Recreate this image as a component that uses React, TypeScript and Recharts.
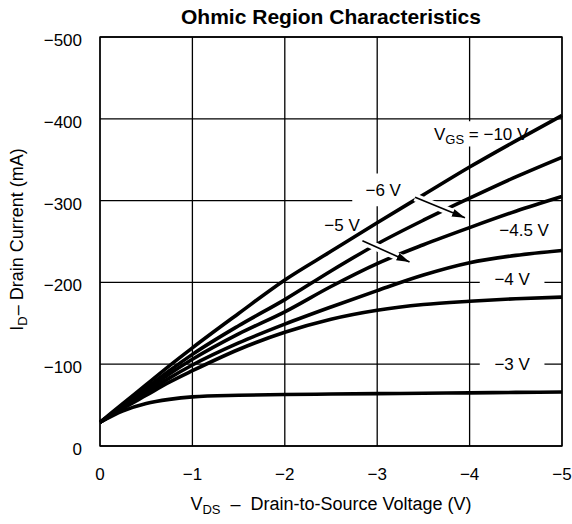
import React from 'react';
import {
  LineChart,
  Line,
  XAxis,
  YAxis,
  CartesianGrid,
  ReferenceArea,
  ReferenceLine,
  Label,
} from 'recharts';

const FONT = '"Liberation Sans", Arial, Helvetica, sans-serif';

// V_DS sample points (V) and drain current per V_GS curve (mA)
const vds = [0, -0.25, -0.5, -0.75, -1, -1.5, -2, -2.5, -3, -3.5, -4, -4.5, -5];
const id10 = [-29, -52, -75, -98, -120, -162, -203, -238, -273, -307, -341, -373, -404];
const id6 = [-29, -50, -71, -92, -112, -147, -179, -214, -247, -276, -303, -329, -353];
const id5 = [-29, -49, -68, -88, -106, -137, -164, -195, -223, -246, -267, -287, -305];
const id45 = [-29, -47, -65, -83, -99, -126, -149, -170, -190, -209, -224, -233, -239];
const id4 = [-29, -46, -62, -78, -92, -118, -139, -155, -166, -173, -177, -180, -182];
const id3 = [-29, -43, -52, -57, -60, -62, -63, -63.5, -64, -64.5, -65, -65.5, -66];

const xTicks = [0, -1, -2, -3, -4, -5];
const yTicks = [0, -100, -200, -300, -400, -500];

const seriesKeys = ['v10', 'v6', 'v5', 'v45', 'v4', 'v3'];

const data = vds.map((v, i) => ({
  vds: v,
  v10: id10[i],
  v6: id6[i],
  v5: id5[i],
  v45: id45[i],
  v4: id4[i],
  v3: id3[i],
}));

// curve labels, boxes in data units; white ones knock out the grid behind the text
const annotations = [
  { pre: 'V', sub: 'GS', post: ' = \u221210 V', x1: -3.55, x2: -4.7, y1: -397, y2: -366, white: true },
  { pre: '\u22126 V', x1: -2.73, x2: -3.4, y1: -333, y2: -293, white: true },
  { pre: '\u22125 V', x1: -2.4, x2: -2.84, y1: -281, y2: -259, white: false },
  { pre: '\u22124.5 V', x1: -4.29, x2: -4.89, y1: -276, y2: -252, white: false },
  { pre: '\u22124 V', x1: -4.11, x2: -4.81, y1: -216, y2: -192, white: true },
  { pre: '\u22123 V', x1: -4.11, x2: -4.81, y1: -112, y2: -88, white: true },
];

const arrows = [
  { from: { x: -3.41, y: -304 }, to: { x: -3.95, y: -279 } },
  { from: { x: -2.84, y: -251 }, to: { x: -3.35, y: -225 } },
];

const minus = (v: number) => (v < 0 ? '\u2212' + Math.abs(v) : String(v));

function XTick(props: any) {
  const { x, y, payload } = props;
  return (
    <text x={x} y={y + 12} textAnchor="middle" fontSize={17} fontFamily={FONT} fill="#000">
      {minus(payload.value)}
    </text>
  );
}

function YTick(props: any) {
  const { x, y, payload } = props;
  return (
    <text x={x} y={y + 9} textAnchor="end" fontSize={17} fontFamily={FONT} fill="#000">
      {minus(payload.value)}
    </text>
  );
}

function XTitle(props: any) {
  const vb = props.viewBox;
  const cx = vb.x + vb.width / 2;
  return (
    <text x={cx} y={vb.y + 64} textAnchor="middle" fontSize={18} fontFamily={FONT} fill="#000">
      V<tspan fontSize={13} dy={4}>DS</tspan>
      <tspan dy={-4} dx={10}>{'\u2013'}</tspan>
      <tspan dx={10}>Drain-to-Source Voltage (V)</tspan>
    </text>
  );
}

function YTitle(props: any) {
  const vb = props.viewBox;
  const cy = vb.y + vb.height / 2 - 2;
  return (
    <text
      transform={`translate(23, ${cy}) rotate(-90)`}
      textAnchor="middle"
      fontSize={18}
      fontFamily={FONT}
      fill="#000"
    >
      I<tspan fontSize={13} dy={4}>D</tspan>
      <tspan dy={-4} dx={1}>{'\u2013 Drain Current (mA)'}</tspan>
    </text>
  );
}

function annoLabel(a: any) {
  return (props: any) => {
    const vb = props.viewBox;
    const cx = vb.x + vb.width / 2;
    const cy = vb.y + vb.height / 2;
    return (
      <text x={cx} y={cy + 6} textAnchor="middle" fontSize={17} fontFamily={FONT} fill="#000">
        {a.pre}
        {a.sub && (
          <tspan fontSize={13} dy={4}>
            {a.sub}
          </tspan>
        )}
        {a.post && <tspan dy={a.sub ? -4 : 0}>{a.post}</tspan>}
      </text>
    );
  };
}

export default function App() {
  return (
    <div style={{ position: 'absolute', left: 0, top: 0, width: 572, height: 524, background: '#fff' }}>
      <LineChart
        width={572}
        height={524}
        data={data}
        margin={{ top: 37, right: 10, bottom: 0, left: 0 }}
      >
        <defs>
          <marker
            id="arrowHead"
            markerUnits="userSpaceOnUse"
            markerWidth={14}
            markerHeight={10}
            refX={13}
            refY={5}
            orient="auto"
          >
            <path d="M0,1 L13,5 L0,9 Z" fill="#000" />
          </marker>
        </defs>
        <CartesianGrid stroke="#000" strokeWidth={1.3} />
        <XAxis
          dataKey="vds"
          type="number"
          domain={[-5, 0]}
          reversed
          ticks={xTicks}
          tick={<XTick />}
          tickLine={false}
          axisLine={false}
          tickSize={0}
          tickMargin={22}
          height={78}
          interval={0}
        >
          <Label content={<XTitle />} />
        </XAxis>
        <YAxis
          type="number"
          domain={[-500, 0]}
          reversed
          ticks={yTicks}
          tick={<YTick />}
          tickLine={false}
          axisLine={false}
          tickSize={0}
          tickMargin={18}
          width={100}
          interval={0}
        >
          <Label content={<YTitle />} />
        </YAxis>
        {annotations.map((a, i) => (
          <ReferenceArea
            key={'box' + i}
            x1={a.x1}
            x2={a.x2}
            y1={a.y1}
            y2={a.y2}
            fill="#fff"
            fillOpacity={a.white ? 1 : 0}
            stroke="none"
            zIndex={50}
            label={{ content: annoLabel(a) }}
          />
        ))}
        <ReferenceArea
          x1={0}
          x2={-5}
          y1={0}
          y2={-500}
          fill="none"
          fillOpacity={0}
          stroke="#000"
          strokeWidth={1.3}
          zIndex={60}
        />
        {seriesKeys.map((k) => (
          <Line
            key={k}
            type="monotone"
            dataKey={k}
            stroke="#000"
            strokeWidth={3.6}
            dot={false}
            activeDot={false}
            isAnimationActive={false}
            zIndex={400}
          />
        ))}
        {arrows.map((a, i) => (
          <ReferenceLine
            key={'halo' + i}
            segment={[a.from, a.to]}
            stroke="#fff"
            strokeWidth={8}
            zIndex={450}
          />
        ))}
        {arrows.map((a, i) => (
          <ReferenceLine
            key={'arrow' + i}
            segment={[a.from, a.to]}
            stroke="#000"
            strokeWidth={1.6}
            markerEnd="url(#arrowHead)"
            zIndex={460}
          />
        ))}
      </LineChart>
      <svg
        width={572}
        height={36}
        style={{ position: 'absolute', left: 0, top: 0, pointerEvents: 'none' }}
      >
        <text x={331} y={24} textAnchor="middle" fontSize={21} fontWeight="bold" fontFamily={FONT} fill="#000">
          Ohmic Region Characteristics
        </text>
      </svg>
    </div>
  );
}
